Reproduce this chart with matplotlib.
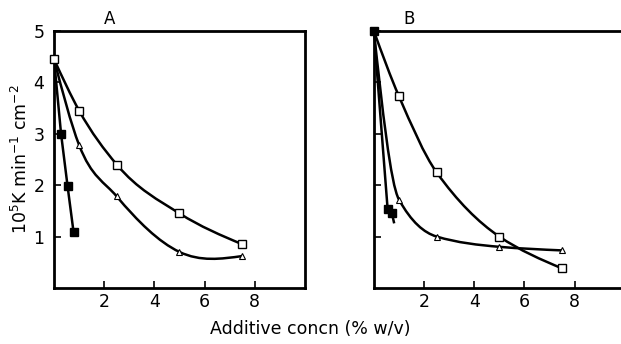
import numpy as np
import matplotlib
matplotlib.use("Agg")
import matplotlib.pyplot as plt
from matplotlib.path import Path
from matplotlib.patches import PathPatch

# panel A
a_open_x = [0, 1, 2.5, 5, 7.5]
a_open_y = [4.45, 3.45, 2.4, 1.45, 0.85]
a_tri_x = [0, 1, 2.5, 5, 7.5]
a_tri_y = [4.45, 2.78, 1.78, 0.7, 0.62]
a_fill_x = [0, 0.28, 0.54, 0.78]
a_fill_y = [4.45, 3.0, 1.98, 1.08]

# panel B
b_open_x = [0, 1, 2.5, 5, 7.5]
b_open_y = [5.0, 3.73, 2.25, 1.0, 0.38]
b_tri_x = [0, 1, 2.5, 5, 7.5]
b_tri_y = [5.0, 1.72, 1.0, 0.8, 0.73]
b_fill_x = [0, 0.55, 0.72]
b_fill_y = [5.0, 1.53, 1.45]

x_ticks = [2, 4, 6, 8]
y_ticks = [1, 2, 3, 4, 5]

plt.rcParams["font.family"] = "DejaVu Sans"


def smooth(ax, xs, ys, monotone=True, lw=1.8):
    # cubic Hermite through the points, drawn as Bezier segments
    x = np.asarray(xs, float)
    y = np.asarray(ys, float)
    h = np.diff(x)
    d = np.diff(y) / h
    n = len(x)
    m = np.zeros(n)
    for i in range(1, n - 1):
        if monotone:
            w1 = 2 * h[i] + h[i - 1]
            w2 = h[i] + 2 * h[i - 1]
            m[i] = (w1 + w2) / (w1 / d[i - 1] + w2 / d[i])
        else:
            m[i] = (h[i] * d[i - 1] + h[i - 1] * d[i]) / (h[i - 1] + h[i])
    m[0] = (3 * d[0] - m[1]) / 2
    m[-1] = (3 * d[-1] - m[-2]) / 2
    verts = [(x[0], y[0])]
    codes = [Path.MOVETO]
    for i in range(n - 1):
        verts += [(x[i] + h[i] / 3, y[i] + m[i] * h[i] / 3),
                  (x[i + 1] - h[i] / 3, y[i + 1] - m[i + 1] * h[i] / 3),
                  (x[i + 1], y[i + 1])]
        codes += [Path.CURVE4] * 3
    ax.add_patch(PathPatch(Path(verts, codes), fill=False, lw=lw,
                           color="black", clip_on=False, zorder=2))


fig = plt.figure(figsize=(6.21, 3.44), dpi=100)
axA = fig.add_axes([0.087, 0.163, 0.404, 0.747])
axB = fig.add_axes([0.602, 0.163, 0.404, 0.747])

for ax in (axA, axB):
    ax.set_xlim(0, 10)
    ax.set_ylim(0, 5)
    ax.set_xticks(x_ticks)
    ax.set_yticks(y_ticks)
    ax.tick_params(direction="in", length=5, width=1.2, labelsize=12.5)
    for s in ax.spines.values():
        s.set_linewidth(2)

axA.tick_params(axis="y", pad=7)
axB.set_yticklabels([])
axB.spines["right"].set_visible(False)

ms = dict(color="black", zorder=3, clip_on=False, linestyle="none")

smooth(axA, a_open_x, a_open_y, monotone=False)
smooth(axA, a_tri_x, a_tri_y, monotone=False)
axA.plot(a_fill_x, a_fill_y, color="black", lw=1.8)
axA.plot(a_open_x, a_open_y, marker="s", ms=6, mfc="white", mew=1, **ms)
axA.plot(a_tri_x[1:], a_tri_y[1:], marker="^", ms=5, mfc="white", mew=0.8, **ms)
axA.plot(a_fill_x[1:], a_fill_y[1:], marker="s", ms=5.5, mfc="black", **ms)

smooth(axB, b_open_x, b_open_y)
smooth(axB, b_tri_x, b_tri_y)
axB.plot(b_fill_x + [0.8], b_fill_y + [1.28], color="black", lw=1.8)
axB.plot(b_open_x[1:], b_open_y[1:], marker="s", ms=6, mfc="white", mew=1, **ms)
axB.plot(b_tri_x[1:], b_tri_y[1:], marker="^", ms=5, mfc="white", mew=0.8, **ms)
axB.plot(b_fill_x, b_fill_y, marker="s", ms=5.5, mfc="black", **ms)

axA.text(2.2, 5.05, "A", fontsize=12, ha="center", va="bottom")
axB.text(1.4, 5.05, "B", fontsize=12, ha="center", va="bottom")

axA.set_ylabel("10$^5$K min$^{-1}$ cm$^{-2}$", fontsize=12.5, labelpad=2)
fig.text(0.5, 0.03, "Additive concn (% w/v)", fontsize=12.5, ha="center")

fig.savefig("out.png", dpi=100)
